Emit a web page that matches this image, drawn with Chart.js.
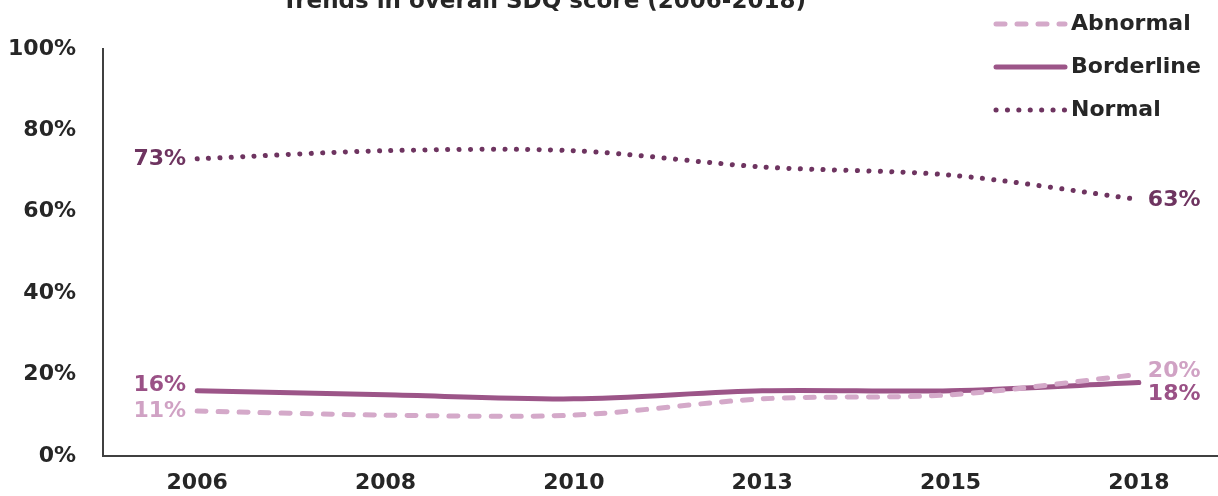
<!DOCTYPE html>
<html>
<head>
<meta charset="utf-8">
<script src="https://cdn.jsdelivr.net/npm/chart.js@4"></script>
<style>
  html, body { margin: 0; padding: 0; background: #fff; overflow: hidden; }
  #canvasBox { width: 1218px; height: 496px; overflow: hidden; position: relative; }
  #sdqChart { position: absolute; left: 0; top: 0; }
</style>
</head>
<body>
<div id="canvasBox"><canvas id="sdqChart" width="1240" height="496"></canvas></div>
<script>
const years = ['2006', '2008', '2010', '2013', '2015', '2018'];
const abnormal = [11, 10, 10, 14, 15, 20];
const borderline = [16, 15, 14, 16, 16, 18];
const normal = [73, 75, 75, 71, 69, 63];
const yTicks = [0, 20, 40, 60, 80, 100];
const chartTitle = 'Trends in overall SDQ score (2006-2018)';

const fontFamily = '"DejaVu Sans", sans-serif';
const textColor = '#262626';

// first / last value labels, offsets keep 18% and 20% apart
const endLabels = {
  id: 'endLabels',
  afterDatasetsDraw(chart) {
    const ctx = chart.ctx;
    ctx.save();
    ctx.font = 'bold 22px ' + fontFamily;
    ctx.textBaseline = 'middle';
    const shifts = [[0, -3], [-5, 12], [0, 1]];
    chart.data.datasets.forEach((ds, i) => {
      const pts = chart.getDatasetMeta(i).data;
      const first = pts[0];
      const last = pts[pts.length - 1];
      ctx.fillStyle = ds.labelColor;
      ctx.textAlign = 'right';
      ctx.fillText(ds.data[0] + '%', first.x - 11, first.y + shifts[i][0]);
      ctx.textAlign = 'left';
      ctx.fillText(ds.data[ds.data.length - 1] + '%', last.x + 9, last.y + shifts[i][1]);
    });
    ctx.restore();
  }
};

const sideLegend = {
  id: 'sideLegend',
  afterDraw(chart) {
    const ctx = chart.ctx;
    ctx.save();
    // title (cut off at the top like the source)
    ctx.font = 'bold 23px ' + fontFamily;
    ctx.fillStyle = textColor;
    ctx.textAlign = 'center';
    ctx.textBaseline = 'middle';
    ctx.fillText(chartTitle, 544, 2);

    ctx.font = 'bold 22px ' + fontFamily;
    const rows = [24, 67, 110];
    chart.data.datasets.forEach((ds, i) => {
      const y = rows[i];
      ctx.beginPath();
      ctx.strokeStyle = ds.borderColor;
      ctx.lineWidth = ds.borderWidth;
      ctx.lineCap = 'round';
      ctx.setLineDash(ds.borderDash || []);
      ctx.moveTo(996, y);
      ctx.lineTo(1065, y);
      ctx.stroke();
      ctx.setLineDash([]);
      ctx.fillStyle = textColor;
      ctx.textAlign = 'left';
      ctx.fillText(ds.label, 1071, y);
    });
    ctx.restore();
  }
};

const ctx = document.getElementById('sdqChart').getContext('2d');
new Chart(ctx, {
  type: 'line',
  data: {
    labels: years,
    datasets: [
      {
        label: 'Abnormal',
        data: abnormal,
        borderColor: '#d4a9c9',
        labelColor: '#d0a2c4',
        borderWidth: 5,
        borderDash: [9, 12],
        borderCapStyle: 'round',
      },
      {
        label: 'Borderline',
        data: borderline,
        borderColor: '#9c5588',
        labelColor: '#9a5186',
        borderWidth: 5,
        borderCapStyle: 'round',
      },
      {
        label: 'Normal',
        data: normal,
        borderColor: '#6e3460',
        labelColor: '#6e3460',
        borderWidth: 5,
        borderDash: [0.1, 11.3],
        borderCapStyle: 'round',
      }
    ]
  },
  options: {
    responsive: false,
    animation: false,
    layout: { padding: { top: 49, right: 7, left: 0, bottom: 0 } },
    elements: {
      point: { radius: 0, hoverRadius: 0 },
      line: { tension: 0.3, fill: false }
    },
    plugins: {
      legend: { display: false },
      title: { display: false },
      tooltip: { enabled: false }
    },
    scales: {
      x: {
        offset: true,
        grid: { display: false, drawTicks: false },
        border: { display: true, color: '#404040', width: 2 },
        ticks: {
          color: textColor,
          font: { family: fontFamily, size: 22, weight: 'bold' },
          padding: 14,
          maxRotation: 0
        },
        afterFit(scale) { scale.height = 39; }
      },
      y: {
        min: 0,
        max: 100,
        afterBuildTicks(scale) { scale.ticks = yTicks.map(v => ({ value: v })); },
        grid: { display: false, drawTicks: false },
        border: { display: true, color: '#404040', width: 2 },
        ticks: {
          color: textColor,
          font: { family: fontFamily, size: 22, weight: 'bold' },
          padding: 27,
          callback: v => v + '%'
        },
        afterFit(scale) { scale.width = 103; }
      }
    }
  },
  plugins: [endLabels, sideLegend]
});
</script>
</body>
</html>
